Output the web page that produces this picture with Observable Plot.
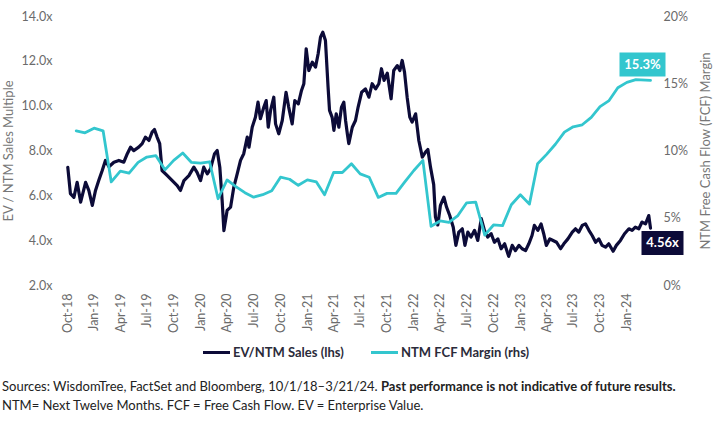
<!DOCTYPE html>
<html>
<head>
<meta charset="utf-8">
<script src="https://cdn.jsdelivr.net/npm/d3@7"></script>
<script src="https://cdn.jsdelivr.net/npm/@observablehq/plot@0.6"></script>
<style>
  html, body { margin: 0; padding: 0; background: #fff; }
  #wrap { position: relative; width: 713px; height: 424px; font-family: Lato, "Noto Sans", sans-serif; }
  #chart { position: absolute; left: 0; top: 0; }
  #legend { position: absolute; top: 343px; left: 0; width: 713px; height: 18px; font-size: 13px; font-weight: bold; color: #2b2b3a; }
  .item { position: absolute; top: 0; display: flex; align-items: center; height: 18px; white-space: nowrap; }
  .sw { display: inline-block; width: 27px; height: 3px; margin-right: 3px; }
  #caption { position: absolute; left: 2px; top: 377px; font-size: 13px; color: #222; line-height: 19px; white-space: nowrap; }
</style>
</head>
<body>
<div id="wrap">
  <div id="chart"></div>
  <div id="legend"></div>
  <div id="caption"></div>
</div>
<script>
// ---- data ----
const evDates = [
"2018-10-02","2018-10-11","2018-10-23","2018-11-03","2018-11-15","2018-12-02","2018-12-13","2018-12-25",
"2019-01-05","2019-01-16","2019-01-28","2019-02-08","2019-02-20","2019-03-09","2019-03-26","2019-04-12",
"2019-04-24","2019-05-05","2019-05-16","2019-06-02","2019-06-14","2019-06-25","2019-07-07","2019-07-18",
"2019-07-26","2019-08-04","2019-08-13","2019-08-21","2019-09-08","2019-09-25","2019-10-12","2019-10-23",
"2019-11-04","2019-11-21","2019-12-08","2019-12-19","2019-12-31","2020-01-11","2020-01-23","2020-02-03",
"2020-02-17","2020-02-26","2020-03-06","2020-03-14","2020-03-20","2020-03-31","2020-04-12","2020-04-23",
"2020-05-05","2020-05-16","2020-05-27","2020-06-08","2020-06-14","2020-06-25","2020-07-06","2020-07-15",
"2020-07-23","2020-08-04","2020-08-12","2020-08-19","2020-08-27","2020-09-07","2020-09-13","2020-09-24",
"2020-10-06","2020-10-19","2020-10-28","2020-11-09","2020-11-18","2020-11-30","2020-12-11","2020-12-19",
"2020-12-27","2021-01-05","2021-01-17","2021-01-28","2021-02-06","2021-02-14","2021-02-22","2021-03-03",
"2021-03-12","2021-03-17","2021-03-26","2021-04-01","2021-04-09","2021-04-18","2021-04-27","2021-05-05",
"2021-05-11","2021-05-17","2021-05-22","2021-06-03","2021-06-14","2021-06-23","2021-07-05","2021-07-18",
"2021-07-30","2021-08-10","2021-08-22","2021-09-02","2021-09-11","2021-09-20","2021-10-01","2021-10-14",
"2021-10-23","2021-11-04","2021-11-13","2021-11-21","2021-11-29","2021-12-08","2021-12-17","2021-12-25",
"2022-01-06","2022-01-17","2022-01-29","2022-02-09","2022-02-17","2022-02-26","2022-03-09","2022-03-15",
"2022-03-23","2022-04-01","2022-04-13","2022-04-22","2022-05-03","2022-05-15","2022-05-24","2022-06-03",
"2022-06-15","2022-06-24","2022-07-04","2022-07-15","2022-07-27","2022-08-07","2022-08-19","2022-08-30",
"2022-09-10","2022-09-22","2022-10-03","2022-10-15","2022-10-26","2022-11-07","2022-11-21","2022-12-03",
"2022-12-14","2022-12-26","2023-01-06","2023-01-18","2023-01-29","2023-02-09","2023-02-17","2023-03-01",
"2023-03-12","2023-03-21","2023-03-30","2023-04-11","2023-04-22","2023-05-04","2023-05-18","2023-05-29",
"2023-06-12","2023-06-27","2023-07-08","2023-07-19","2023-07-31","2023-08-11","2023-08-23","2023-09-03",
"2023-09-15","2023-09-26","2023-10-07","2023-10-19","2023-10-30","2023-11-14","2023-11-25","2023-12-09",
"2023-12-23","2024-01-07","2024-01-18","2024-01-29","2024-02-10","2024-02-21","2024-03-04","2024-03-15",
"2024-03-21"];
const evValues = [
7.27,6.1,5.93,6.6,5.72,6.6,6.24,5.57,
6.24,6.68,7.13,7.58,7.3,7.5,7.58,7.5,
7.88,8.17,8.02,8.17,8.33,8.62,8.47,8.84,
8.96,8.62,8.33,7.13,6.9,6.68,6.46,6.24,
6.68,6.9,7.28,7.05,6.68,7.28,6.98,7.2,
7.88,8.02,7.28,5.79,4.45,5.35,5.5,6.39,
7.0,7.58,7.88,8.62,8.17,9.06,9.51,10.18,
9.44,9.96,10.25,9.06,9.81,10.4,9.21,8.77,
9.36,10.62,9.96,9.21,10.25,10.1,10.7,11.0,
12.56,11.59,11.96,11.74,12.34,13.08,13.3,12.93,
10.85,9.81,9.5,8.92,9.66,9.06,9.96,10.18,
9.36,8.77,8.33,9.06,9.36,9.96,10.62,10.77,
10.4,11.0,10.77,11.0,11.67,11.15,11.47,10.33,
11.59,11.81,11.59,12.04,11.52,10.4,9.51,9.29,
9.66,8.47,7.73,7.95,8.07,7.28,6.5,5.05,
4.7,5.57,5.94,5.5,5.12,4.6,3.79,4.38,
4.53,3.79,4.38,4.16,4.46,4.01,4.98,4.46,
4.16,4.31,3.93,4.08,3.64,3.86,3.3,3.79,
3.56,3.79,3.64,3.56,3.86,4.23,4.68,4.46,
4.75,4.31,3.79,4.08,4.01,3.93,3.64,3.86,
4.08,4.38,4.53,4.38,4.68,4.75,4.46,4.23,
3.93,4.08,3.79,3.71,3.86,3.53,3.79,4.01,
4.31,4.53,4.46,4.6,4.53,4.83,4.75,5.12,
4.56];

const fcfDates = [
"2018-10-31","2018-11-30","2018-12-31","2019-01-31","2019-02-28","2019-03-31","2019-04-30","2019-05-31",
"2019-06-30","2019-07-31","2019-08-31","2019-09-30","2019-10-31","2019-11-30","2019-12-31","2020-01-31",
"2020-02-29","2020-03-31","2020-04-30","2020-05-31","2020-06-30","2020-07-31","2020-08-31","2020-09-30",
"2020-10-31","2020-11-30","2020-12-31","2021-01-31","2021-02-28","2021-03-31","2021-04-30","2021-05-31",
"2021-06-30","2021-07-31","2021-08-31","2021-09-30","2021-10-31","2021-11-30","2021-12-31","2022-01-31",
"2022-02-28","2022-03-31","2022-04-30","2022-05-31","2022-06-30","2022-07-31","2022-08-31","2022-09-30",
"2022-10-31","2022-11-30","2022-12-31","2023-01-31","2023-02-28","2023-03-31","2023-04-30","2023-05-31",
"2023-06-30","2023-07-31","2023-08-31","2023-09-30","2023-10-31","2023-11-30","2023-12-31","2024-01-31",
"2024-03-21"];
const fcfValues = [
11.5,11.35,11.7,11.5,7.7,8.5,8.35,9.15,
9.55,9.65,8.6,9.3,9.85,9.15,9.1,9.2,
6.45,7.85,7.35,6.9,6.57,6.75,7.05,8.05,
7.9,7.45,7.85,7.7,6.75,8.4,8.4,9.05,
8.3,8.05,6.55,6.85,6.85,7.7,8.55,9.3,
4.4,4.8,4.7,5.2,6.15,6.2,3.75,4.5,
4.45,6.0,6.75,6.05,9.05,9.75,10.5,11.4,
11.8,11.95,12.5,13.3,13.75,14.7,15.1,15.3,
15.25];

const xTickLabels = ["Oct-18","Jan-19","Apr-19","Jul-19","Oct-19","Jan-20","Apr-20","Jul-20","Oct-20","Jan-21","Apr-21",
  "Jul-21","Oct-21","Jan-22","Apr-22","Jul-22","Oct-22","Jan-23","Apr-23","Jul-23","Oct-23","Jan-24"];
const leftTicks = [2, 4, 6, 8, 10, 12, 14];
const rightTicks = [0, 5, 10, 15, 20];
const seriesNames = ["EV/NTM Sales (lhs)", "NTM FCF Margin (rhs)"];
const leftTitle = "EV / NTM Sales Multiple";
const rightTitle = "NTM Free Cash Flow (FCF) Margin";
const lastLabels = ["15.3%", "4.56x"];
const dateRange = ["2018-10-01", "2024-03-21"];
const captionLine1 = "Sources: WisdomTree, FactSet and Bloomberg, 10/1/18–3/21/24. ";
const captionBold = "Past performance is not indicative of future results.";
const captionLine2 = "NTM= Next Twelve Months. FCF = Free Cash Flow. EV = Enterprise Value.";

// ---- build ----
const navy = "#0c0b38";
const teal = "#33c6ce";
const parse = d3.utcParse("%Y-%m-%d");
const ev = evDates.map((d, i) => ({date: parse(d), v: evValues[i]}));
const fcf = fcfDates.map((d, i) => ({date: parse(d), v: fcfValues[i]}));
const toLeft = p => 2 + p * (12 / 20);           // map % onto the lhs scale
const fromLeft = v => (v - 2) / (12 / 20);
const xTicks = xTickLabels.map(s => d3.utcParse("%b-%y")(s));

const box = (w, h) => ({draw(ctx) { ctx.rect(-w / 2, -h / 2, w, h); }});
const lastEv = ev[ev.length - 1];
const lastFcf = fcf[fcf.length - 1];

const plot = Plot.plot({
  width: 713, height: 340,
  marginTop: 16, marginBottom: 55, marginLeft: 67, marginRight: 63,
  style: {fontFamily: "Lato, 'Noto Sans', sans-serif", fontSize: "12px", color: "#6b6b6b", background: "#fff", overflow: "visible"},
  x: {type: "utc", domain: dateRange.map(parse)},
  y: {domain: [2, 14]},
  marks: [
    Plot.axisX({ticks: xTicks, tickFormat: d3.utcFormat("%b-%y"), tickRotate: -90, tickSize: 0, tickPadding: 8, label: null, fontSize: 12.5}),
    Plot.axisY({ticks: leftTicks, tickFormat: d => d.toFixed(1) + "x", tickSize: 0, tickPadding: 15, label: null, fontSize: 12.5}),
    Plot.axisY(rightTicks.map(toLeft), {anchor: "right", tickFormat: v => Math.round(fromLeft(v)) + "%", tickSize: 0, tickPadding: 13, label: null, fontSize: 12.5}),
    Plot.text([leftTitle], {frameAnchor: "left", textAnchor: "middle", dx: -59, rotate: -90, fontSize: 13, fill: "#777"}),
    Plot.text([rightTitle], {frameAnchor: "right", textAnchor: "middle", dx: 55, rotate: -90, fontSize: 13, fill: "#777"}),
    Plot.line(ev, {x: "date", y: "v", stroke: navy, strokeWidth: 3.2, strokeLinejoin: "round"}),
    Plot.line(fcf, {x: "date", y: d => toLeft(d.v), stroke: teal, strokeWidth: 2.8, strokeLinejoin: "round"}),
    Plot.dot([lastFcf], {x: "date", y: d => toLeft(d.v), symbol: box(46, 24), fill: teal, stroke: null, dx: -8, dy: -16}),
    Plot.text([lastFcf], {x: "date", y: d => toLeft(d.v), text: () => lastLabels[0], fill: "#fff", fontWeight: "bold", fontSize: 13, dx: -8, dy: -16}),
    Plot.dot([lastEv], {x: "date", y: "v", symbol: box(42, 24), fill: navy, stroke: null, dx: 12, dy: 15}),
    Plot.text([lastEv], {x: "date", y: "v", text: () => lastLabels[1], fill: "#fff", fontWeight: "bold", fontSize: 13, dx: 12, dy: 15})
  ]
});
document.getElementById("chart").appendChild(plot);

// legend
const legend = document.getElementById("legend");
[[seriesNames[0], navy, 203], [seriesNames[1], teal, 371]].forEach(([name, color, left]) => {
  const it = document.createElement("div");
  it.className = "item";
  it.style.left = left + "px";
  const sw = document.createElement("span");
  sw.className = "sw";
  sw.style.background = color;
  it.appendChild(sw);
  it.appendChild(document.createTextNode(name));
  legend.appendChild(it);
});

// caption
const cap = document.getElementById("caption");
const l1 = document.createElement("div");
l1.appendChild(document.createTextNode(captionLine1));
const b = document.createElement("b");
b.textContent = captionBold;
l1.appendChild(b);
const l2 = document.createElement("div");
l2.textContent = captionLine2;
cap.appendChild(l1);
cap.appendChild(l2);
</script>
</body>
</html>
